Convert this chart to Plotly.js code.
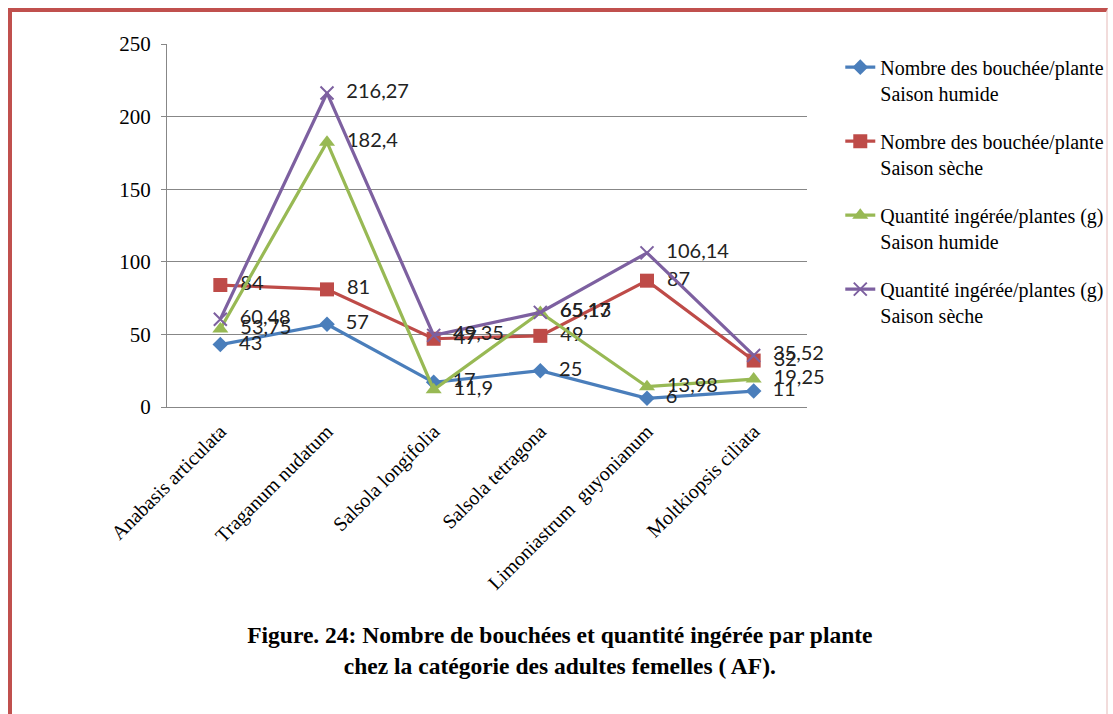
<!DOCTYPE html>
<html>
<head>
<meta charset="utf-8">
<script src="https://cdn.plot.ly/plotly-3.0.1.min.js"></script>
<style>
html,body{margin:0;padding:0;background:#fff;}
#wrap{position:relative;width:1113px;height:714px;overflow:hidden;}
#frame{position:absolute;left:8px;top:8px;width:1100px;height:720px;border-left:4px solid #c0504d;border-top:4px solid #c0504d;border-right:2px solid #f2dcdb;box-sizing:border-box;pointer-events:none;z-index:5;}
#chart{position:absolute;left:0;top:0;width:1113px;height:714px;}
</style>
</head>
<body>
<div id="wrap">
<div id="chart"></div>
<div id="frame"></div>
</div>
<script>
const categories = ["Anabasis articulata", "Traganum nudatum", "Salsola longifolia", "Salsola tetragona", "Limoniastrum  guyonianum", "Moltkiopsis ciliata"];
const bouchHumide = [43, 57, 17, 25, 6, 11];
const bouchSeche = [84, 81, 47, 49, 87, 32];
const qteHumide = [53.75, 182.4, 11.9, 65.13, 13.98, 19.25];
const qteSeche = [60.48, 216.27, 49.35, 65.17, 106.14, 35.52];
const seriesNames = [
  "Nombre des bouchée/plante<br>Saison humide",
  "Nombre des bouchée/plante<br>Saison sèche",
  "Quantité ingérée/plantes (g)<br>Saison humide",
  "Quantité ingérée/plantes (g)<br>Saison sèche"
];
const yTicks = [0, 50, 100, 150, 200, 250];

function fmt(v){ return '\u00a0\u00a0' + String(v).replace('.', ','); }

const colors = ['#4a7ebb', '#be4b48', '#98b954', '#7d60a0'];
const symbols = ['diamond', 'square', 'triangle-up', 'x-thin-open'];
const sizes = [12, 14, 14, 13];
const data = [bouchHumide, bouchSeche, qteHumide, qteSeche].map((ys, i) => ({
  type: 'scatter',
  mode: 'lines+markers+text',
  x: categories,
  y: ys,
  name: seriesNames[i],
  legendgroup: 'g' + i,
  text: ys.map(fmt),
  textposition: 'middle right',
  textfont: {family: 'Lato, "Liberation Sans", sans-serif', size: 20, color: '#222'},
  line: {color: colors[i], width: 3.2},
  marker: {symbol: symbols[i], size: sizes[i], color: colors[i], line: {color: colors[i], width: i === 3 ? 2 : 0}},
  cliponaxis: false,
  hoverinfo: 'x+y'
}));

const layout = {
  width: 1113,
  height: 714,
  paper_bgcolor: '#fff',
  plot_bgcolor: '#fff',
  margin: {l: 167, r: 306, t: 44, b: 307, pad: 0, autoexpand: false},
  font: {family: '"Liberation Serif", "Times New Roman", serif', color: '#000', size: 18},
  title: {
    text: '<b>Figure. 24: Nombre de bouchées et quantité ingérée par plante</b><br><b>chez la catégorie des adultes femelles ( AF).</b>',
    x: 0.503, xanchor: 'center', y: 0.099, yanchor: 'middle', yref: 'container',
    font: {family: '"Liberation Serif", "Times New Roman", serif', size: 23.5, color: '#000'}
  },
  showlegend: true,
  legend: {
    x: 1.052, xanchor: 'left', y: 0.99, yanchor: 'top',
    valign: 'top',
    tracegroupgap: 19,
    font: {family: '"Liberation Serif", "Times New Roman", serif', size: 20, color: '#000'},
    bgcolor: 'rgba(0,0,0,0)'
  },
  xaxis: {
    type: 'category',
    range: [-0.5, 5.5],
    tickangle: -45,
    showgrid: false,
    showline: true, linecolor: '#878787', linewidth: 1,
    ticks: '', zeroline: false,
    ticklabelstandoff: 4,
    tickfont: {family: '"Liberation Serif", "Times New Roman", serif', size: 20, color: '#000'},
    fixedrange: true
  },
  yaxis: {
    range: [0, 250],
    tickvals: yTicks,
    ticktext: yTicks.map(String),
    showgrid: true, gridcolor: '#878787', gridwidth: 1,
    showline: true, linecolor: '#878787', linewidth: 1,
    ticks: 'outside', ticklen: 5, tickcolor: '#878787',
    ticklabelstandoff: 6,
    zeroline: false,
    tickfont: {family: '"Liberation Serif", "Times New Roman", serif', size: 21, color: '#000'},
    fixedrange: true
  }
};

Plotly.newPlot('chart', data, layout, {displayModeBar: false, staticPlot: true});
</script>
</body>
</html>
